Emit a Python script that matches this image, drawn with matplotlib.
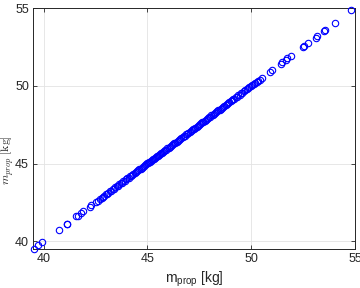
import matplotlib
matplotlib.use('Agg')
from matplotlib import pyplot as plt

# m_prop from the two methods
m_x = [39.52, 39.74, 39.95, 40.74, 41.11, 41.15, 41.58, 41.66, 41.82, 41.90,
       42.24, 42.31, 42.55, 42.63, 42.71, 42.80, 42.86, 42.93, 43.01, 43.08,
       43.12, 43.19, 43.27, 43.33, 43.40, 43.46, 43.52, 43.60, 43.66, 43.71,
       43.79, 43.85, 43.92, 43.98, 44.03, 44.10, 44.16, 44.21, 44.27, 44.33,
       44.39, 44.44, 44.50, 44.57, 44.62, 44.68, 44.73, 44.79, 44.84, 44.90,
       44.95, 45.00, 45.04, 45.09, 45.13, 45.18, 45.22, 45.27, 45.31, 45.36,
       45.41, 45.45, 45.50, 45.55, 45.60, 45.64, 45.69, 45.74, 45.80, 45.85,
       45.91, 45.96, 46.02, 46.07, 46.13, 46.18, 46.24, 46.30, 46.35, 46.41,
       46.47, 46.52, 46.58, 46.63, 46.70, 46.76, 46.81, 46.87, 46.93, 46.98,
       47.04, 47.09, 47.15, 47.20, 47.26, 47.31, 47.37, 47.42, 47.48, 47.53,
       47.59, 47.64, 47.70, 47.76, 47.81, 47.87, 47.92, 47.98, 48.03, 48.09,
       48.14, 48.20, 48.26, 48.31, 48.37, 48.42, 48.48, 48.53, 48.59, 48.65,
       48.71, 48.77, 48.83, 48.89, 48.95, 49.01, 49.07, 49.13, 49.19, 49.25,
       49.32, 49.38, 49.45, 49.52, 49.58, 49.65, 49.72, 49.78, 49.85, 49.92,
       49.98, 50.05, 50.12, 50.18, 50.26, 50.33, 50.41, 50.50, 50.93, 51.00,
       51.43, 51.50, 51.68, 51.75, 51.93, 52.48, 52.56, 52.74, 53.12, 53.16,
       53.52, 53.57, 54.05, 54.83]
m_y = [39.50, 39.78, 39.97, 40.70, 41.12, 41.13, 41.60, 41.64, 41.83, 41.92,
       42.22, 42.33, 42.56, 42.61, 42.73, 42.79, 42.88, 42.92, 43.03, 43.07,
       43.13, 43.21, 43.26, 43.35, 43.39, 43.47, 43.54, 43.59, 43.67, 43.72,
       43.78, 43.86, 43.91, 43.99, 44.05, 44.09, 44.17, 44.20, 44.28, 44.34,
       44.38, 44.45, 44.51, 44.56, 44.63, 44.67, 44.74, 44.78, 44.85, 44.89,
       44.96, 45.01, 45.03, 45.10, 45.12, 45.19, 45.21, 45.28, 45.30, 45.37,
       45.40, 45.46, 45.49, 45.56, 45.59, 45.65, 45.68, 45.75, 45.79, 45.86,
       45.90, 45.97, 46.01, 46.08, 46.12, 46.19, 46.23, 46.31, 46.34, 46.42,
       46.46, 46.53, 46.57, 46.64, 46.69, 46.77, 46.80, 46.88, 46.92, 46.99,
       47.03, 47.10, 47.14, 47.21, 47.25, 47.32, 47.36, 47.43, 47.47, 47.54,
       47.58, 47.65, 47.69, 47.77, 47.80, 47.88, 47.91, 47.99, 48.02, 48.10,
       48.13, 48.21, 48.25, 48.32, 48.36, 48.43, 48.47, 48.54, 48.58, 48.66,
       48.70, 48.78, 48.82, 48.90, 48.94, 49.02, 49.06, 49.14, 49.18, 49.26,
       49.31, 49.39, 49.44, 49.53, 49.57, 49.66, 49.71, 49.79, 49.84, 49.93,
       49.97, 50.06, 50.11, 50.19, 50.25, 50.34, 50.40, 50.51, 50.91, 51.02,
       51.41, 51.52, 51.66, 51.77, 51.91, 52.50, 52.54, 52.76, 53.10, 53.18,
       53.50, 53.59, 54.03, 54.85]
ticks = [40, 45, 50, 55]

plt.rcParams['font.family'] = ['Liberation Sans', 'DejaVu Sans']
plt.rcParams['mathtext.fontset'] = 'custom'
plt.rcParams['mathtext.rm'] = 'Liberation Sans'
plt.rcParams['mathtext.it'] = 'Liberation Sans'

fig = plt.figure(figsize=(3.6, 2.88), dpi=100)
ax = fig.add_axes([0.092, 0.135, 0.894, 0.837])

ax.plot(m_x, m_y, 'o', mfc='none', mec=(0, 0, 1), ms=4.6, mew=0.8,
        clip_on=False, zorder=3)

ax.set_xlim(39.5, 55)
ax.set_ylim(39.5, 55)
ax.set_xticks(ticks)
ax.set_yticks(ticks)
ax.grid(True, color='#e3e3e3', lw=0.6)
ax.set_axisbelow(True)
ax.tick_params(direction='in', top=True, right=True, length=3, width=0.6,
               labelsize=9, colors='#262626', pad=3)
for s in ax.spines.values():
    s.set_color('#262626')
    s.set_linewidth(0.7)

ax.set_xlabel('m$_{prop}$ [kg]', fontsize=10, color='#262626', labelpad=3)
# y label drawn with serif math, as in the original
fig.text(0.021, 0.445, r'$m_{prop}\ [\mathrm{kg}]$', rotation=90,
         fontsize=8.5, color='#262626', ha='center', va='center',
         math_fontfamily='cm')

fig.savefig('out.png', dpi=100)
